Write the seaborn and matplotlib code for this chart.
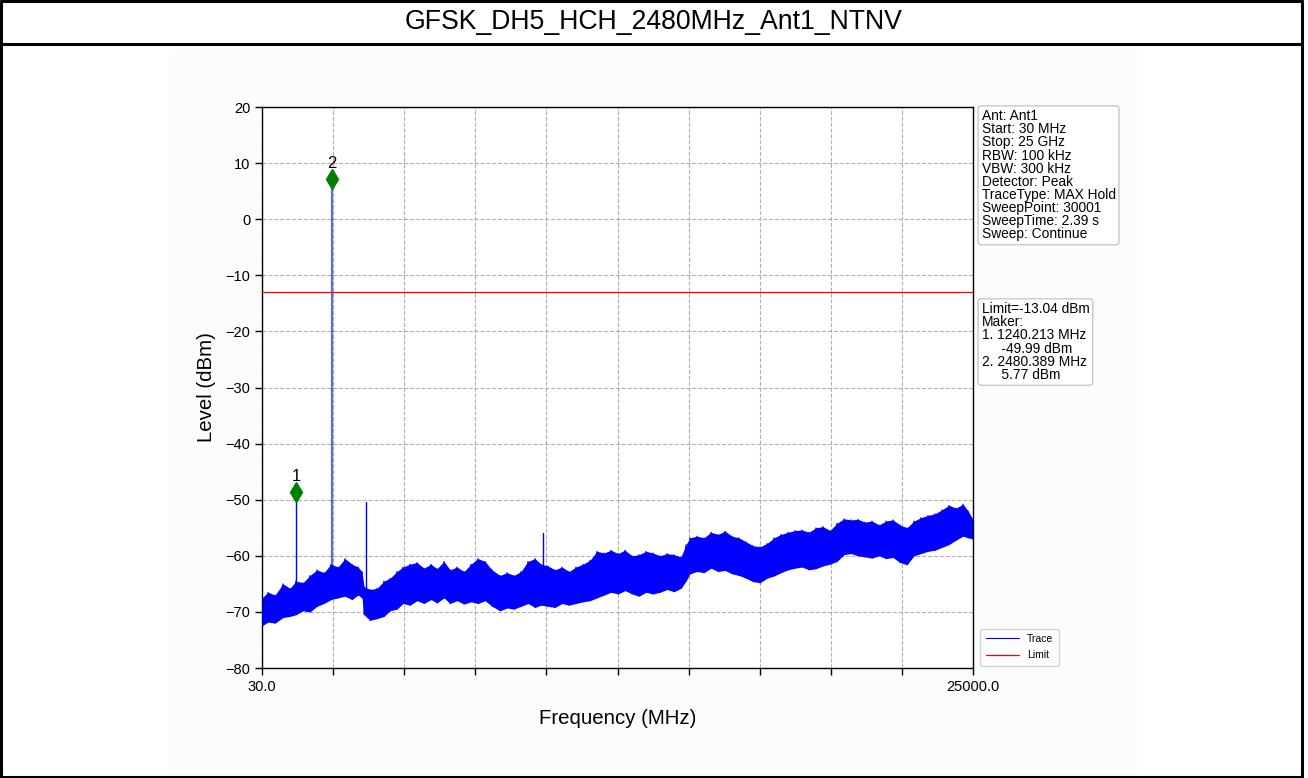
import numpy as np
import pandas as pd
import matplotlib
matplotlib.use("Agg")
import matplotlib.pyplot as plt
import seaborn as sns
from matplotlib.lines import Line2D
from matplotlib.patches import Rectangle

# ---------------- data ----------------
title = "GFSK_DH5_HCH_2480MHz_Ant1_NTNV"
freq_mhz = [30, 241, 487, 767, 1013, 1224, 1470, 1716, 1962, 2207,
            2453, 2699, 2945, 3191, 3402, 3542, 3612, 3823, 4069, 4315,
            4525, 4771, 4982, 5228, 5474, 5719, 5965, 6176, 6422, 6633,
            6878, 7124, 7370, 7616, 7862, 8108, 8389, 8634, 8880, 9126,
            9372, 9618, 9828, 10074, 10320, 10566, 10812, 11058, 11304, 11549,
            11795, 12041, 12287, 12533, 12779, 13024, 13270, 13516, 13762, 14008,
            14254, 14499, 14745, 14921, 15061, 15307, 15553, 15799, 16045, 16291,
            16536, 16782, 17028, 17274, 17520, 17766, 18011, 18257, 18503, 18749,
            18995, 19241, 19486, 19732, 19978, 20224, 20470, 20716, 20962, 21207,
            21453, 21699, 21945, 22191, 22437, 22682, 22928, 23174, 23420, 23666,
            23912, 24157, 24403, 24649, 24825, 25000]
upper_dbm = [-67.5, -66.5, -67.0, -65.0, -65.8, -64.5, -64.8, -63.5, -62.5, -63.0,
             -61.5, -62.0, -60.5, -61.5, -62.0, -62.8, -65.5, -66.0, -65.8, -64.5,
             -64.0, -62.8, -62.0, -61.5, -61.2, -62.2, -61.5, -62.3, -61.0, -62.5,
             -62.0, -62.8, -61.5, -60.5, -61.0, -62.5, -63.5, -63.0, -63.5, -62.8,
             -61.0, -60.5, -61.5, -61.8, -62.5, -62.0, -62.8, -62.0, -61.5, -60.8,
             -59.2, -59.5, -59.0, -59.6, -59.0, -60.0, -59.8, -59.2, -59.5, -60.0,
             -59.6, -59.8, -60.2, -58.0, -56.8, -56.5, -56.8, -55.8, -56.2, -55.6,
             -56.5, -56.8, -57.5, -58.2, -58.4, -57.8, -56.8, -56.2, -55.8, -55.5,
             -55.4, -55.8, -55.0, -54.8, -55.5, -54.2, -53.4, -53.6, -53.5, -54.0,
             -53.8, -54.5, -53.8, -53.6, -54.5, -55.0, -53.8, -53.2, -52.8, -52.5,
             -51.8, -51.0, -51.5, -50.8, -52.0, -53.5]
lower_dbm = [-72.5, -71.8, -72.0, -71.0, -70.8, -70.5, -69.8, -70.0, -69.0, -68.5,
             -67.8, -67.5, -67.2, -67.8, -67.0, -67.5, -70.5, -71.5, -71.2, -70.8,
             -69.8, -69.5, -68.5, -68.8, -68.0, -68.5, -67.8, -68.4, -67.5, -68.5,
             -68.0, -68.6, -68.2, -68.5, -68.0, -69.0, -69.8, -69.3, -69.5, -69.0,
             -68.5, -69.2, -68.8, -69.0, -69.2, -68.5, -68.8, -68.5, -68.2, -68.0,
             -67.5, -67.0, -66.5, -66.8, -66.2, -66.8, -67.2, -66.5, -66.8, -66.5,
             -66.0, -66.4, -65.8, -64.5, -63.2, -62.8, -63.0, -62.2, -62.8, -62.6,
             -63.2, -63.5, -64.0, -64.6, -64.8, -64.0, -63.6, -63.0, -62.5, -62.2,
             -62.0, -62.5, -62.3, -61.8, -61.5, -61.0, -59.8, -59.6, -60.0, -60.2,
             -60.4, -60.0, -60.5, -60.3, -61.2, -61.6, -60.0, -59.6, -59.2, -59.0,
             -58.5, -58.0, -57.2, -56.5, -56.8, -57.0]

spur_freq = [1240.213, 2480.389, 3682, 9909]
spur_peak = [-49.99, 5.77, -50.4, -55.9]
spur_base = [-66.0, -62.0, -66.5, -64.0]

marker_freq = [1240.213, 2480.389]
marker_level = [-49.99, 5.77]
marker_names = ["1", "2"]

limit_dbm = -13.04
x_start, x_stop = 30.0, 25000.0
y_ticks = [-80, -70, -60, -50, -40, -30, -20, -10, 0, 10, 20]

info_text = ("Ant: Ant1\nStart: 30 MHz\nStop: 25 GHz\nRBW: 100 kHz\nVBW: 300 kHz\n"
             "Detector: Peak\nTraceType: MAX Hold\nSweepPoint: 30001\n"
             "SweepTime: 2.39 s\nSweep: Continue")
marker_text = ("Limit=-13.04 dBm\nMaker:\n1. 1240.213 MHz\n     -49.99 dBm\n"
               "2. 2480.389 MHz\n     5.77 dBm")

# ---------------- figure ----------------
sns.set_style("ticks")
plt.rcParams["font.family"] = ["Liberation Sans", "DejaVu Sans"]
for k in ["text.color", "axes.labelcolor", "xtick.color", "ytick.color"]:
    plt.rcParams[k] = "black"

W, H = 1308, 778
fig = plt.figure(figsize=(W / 100, H / 100), dpi=100)
fig.patch.set_facecolor("white")

def px(x0, y0):
    return x0 / W, 1 - y0 / H

fig.add_artist(Rectangle((169 / W, 0), (1137 - 169) / W, (H - 49) / H,
                         transform=fig.transFigure, fc="#fcfcfc", ec="none", zorder=0))
for (xa, ya), (xb, yb) in [((1, 1), (1, 777)), ((1302, 1), (1302, 777)),
                           ((1, 1), (1302, 1)), ((1, 44), (1302, 44)),
                           ((1, 777), (1302, 777))]:
    p1, p2 = px(xa, ya), px(xb, yb)
    fig.add_artist(Line2D([p1[0], p2[0]], [p1[1], p2[1]], transform=fig.transFigure,
                          color="black", lw=2.2, zorder=5))
fig.text(654 / W, 1 - 22 / H, title, ha="center", va="center", fontsize=19.2)

ax = fig.add_axes([262 / W, 1 - 668 / H, (973 - 262) / W, (668 - 107) / H])
ax.set_facecolor("white")

# trace band
ax.fill_between(freq_mhz, lower_dbm, upper_dbm, color="blue", lw=0, zorder=2)
zig_x, zig_y = [], []
for f, u, l in zip(freq_mhz, upper_dbm, lower_dbm):
    zig_x += [f, f]
    zig_y += [u, l]
trace = pd.DataFrame({"Frequency": zig_x, "Level": zig_y})
sns.lineplot(data=trace, x="Frequency", y="Level", ax=ax, color="blue", lw=0.8,
             estimator=None, sort=False, zorder=3, label="Trace")

for f, pk, b in zip(spur_freq, spur_peak, spur_base):
    lw = 1.6 if pk > -20 else 1.0
    a = 0.6 if pk > -20 else 1.0
    ax.plot([f, f], [b, pk], color="blue", lw=lw, alpha=a, zorder=3)

ax.plot([x_start, x_stop], [limit_dbm, limit_dbm], color="red", lw=0.9,
        zorder=4, label="Limit")

for f, lv, name in zip(marker_freq, marker_level, marker_names):
    ax.plot(f, lv + 1.4, marker="d", color="green", markersize=10.5, zorder=6)
    ax.text(f, lv + 2.8, name, ha="center", va="bottom", fontsize=12, zorder=6)

ax.set_xlim(x_start, x_stop)
ax.set_ylim(-80, 20)
xt = np.linspace(x_start, x_stop, 11)
ax.set_xticks(xt)
ax.set_xticklabels(["30.0"] + [""] * 9 + ["25000.0"])
ax.set_yticks(y_ticks)
ax.tick_params(labelsize=10.5, length=5, width=1, color="black", direction="out")
ax.grid(True, color="#b0b0b0", linestyle="--", lw=0.8)
ax.set_axisbelow(True)
for s in ax.spines.values():
    s.set_color("black")
    s.set_linewidth(1.0)
ax.set_xlabel("Frequency (MHz)", fontsize=14.7, labelpad=11)
ax.set_ylabel("Level (dBm)", fontsize=14.7, labelpad=7)

box = dict(boxstyle="round,pad=0.25", fc="white", ec="#c8c8c8", lw=1)
ax.text(1.012, 0.996, info_text, transform=ax.transAxes, ha="left", va="top",
        fontsize=9.9, linespacing=0.92, bbox=box)
ax.text(1.012, 0.652, marker_text, transform=ax.transAxes, ha="left", va="top",
        fontsize=9.9, linespacing=0.92, bbox=box)

leg = ax.legend(loc="lower left", bbox_to_anchor=(1.003, -0.005), fontsize=7.5,
                frameon=True, handlelength=3.2, borderpad=0.5, labelspacing=0.6)
leg.get_frame().set_edgecolor("#cccccc")

fig.savefig("out.png", dpi=100, facecolor="white")
